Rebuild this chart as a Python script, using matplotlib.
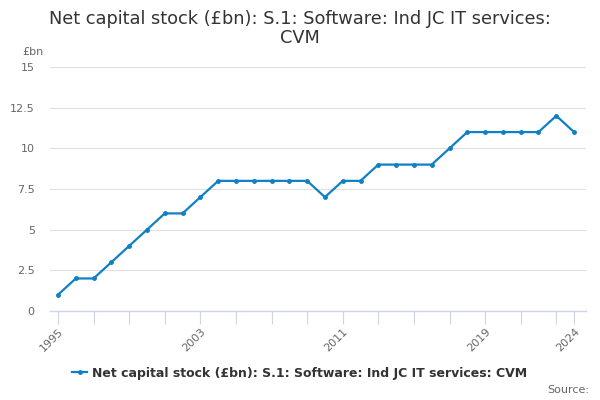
import matplotlib
matplotlib.use("Agg")
import matplotlib.pyplot as plt
from matplotlib.lines import Line2D

years = list(range(1995, 2025))
values = [1, 2, 2, 3, 4, 5, 6, 6, 7, 8, 8, 8, 8, 8, 8, 7, 8, 8, 9, 9, 9, 9, 10, 11, 11, 11, 11, 11, 12, 11]
y_ticks = [0, 2.5, 5, 7.5, 10, 12.5, 15]
y_tick_labels = ["0", "2.5", "5", "7.5", "10", "12.5", "15"]
x_label_years = [1995, 2003, 2011, 2019, 2024]
title = "Net capital stock (£bn): S.1: Software: Ind JC IT services:\nCVM"
series_name = "Net capital stock (£bn): S.1: Software: Ind JC IT services: CVM"

plt.rcParams['font.family'] = ['DejaVu Sans']
fig = plt.figure(figsize=(6, 4), dpi=100)
ax = fig.add_axes([50/600, 1-311/400, 536/600, 244/400])

color = "#0f80c5"
ax.plot(years, values, color=color, lw=1.6, marker="o", ms=2.5)

ax.set_xlim(1994.55, 2024.67)
ax.set_ylim(0, 15)
ax.set_yticks(y_ticks)
ax.set_yticklabels(y_tick_labels, color="#666666", fontsize=8)
ax.tick_params(axis="y", length=0, pad=11)
ax.grid(axis="y", color="#e0e0e0", lw=0.8)
ax.set_axisbelow(True)

minor = list(range(1995, 2024, 2)) + [2024]
ax.set_xticks(minor)
ax.set_xticklabels([str(y) if y in x_label_years else "" for y in minor],
                   rotation=45, ha="right", rotation_mode="anchor",
                   color="#666666", fontsize=8)
ax.tick_params(axis="x", length=9, color="#ccd6eb", width=0.8, pad=2)

for s in ["top", "right", "left"]:
    ax.spines[s].set_visible(False)
ax.spines["bottom"].set_color("#ccd6eb")
ax.spines["bottom"].set_linewidth(1)

fig.text(0.5, 0.975, title, ha="center", va="top", fontsize=12.8, color="#333333", linespacing=1.1)
fig.text(22/600, 1-52/400, "£bn", ha="left", va="center", fontsize=8, color="#666666")

handle = Line2D([0], [0], color=color, lw=1.6, marker="o", ms=2.5)
leg = fig.legend([handle], [series_name], loc="center", bbox_to_anchor=(0.5, 1-373/400),
                 frameon=False, handlelength=1.2, handletextpad=0.4,
                 prop={"weight": "bold", "size": 9})
for t in leg.get_texts():
    t.set_color("#333333")
fig.text(589/600, 1-390/400, "Source:", ha="right", va="center", fontsize=8, color="#666666")

fig.savefig("out.png", dpi=100)
